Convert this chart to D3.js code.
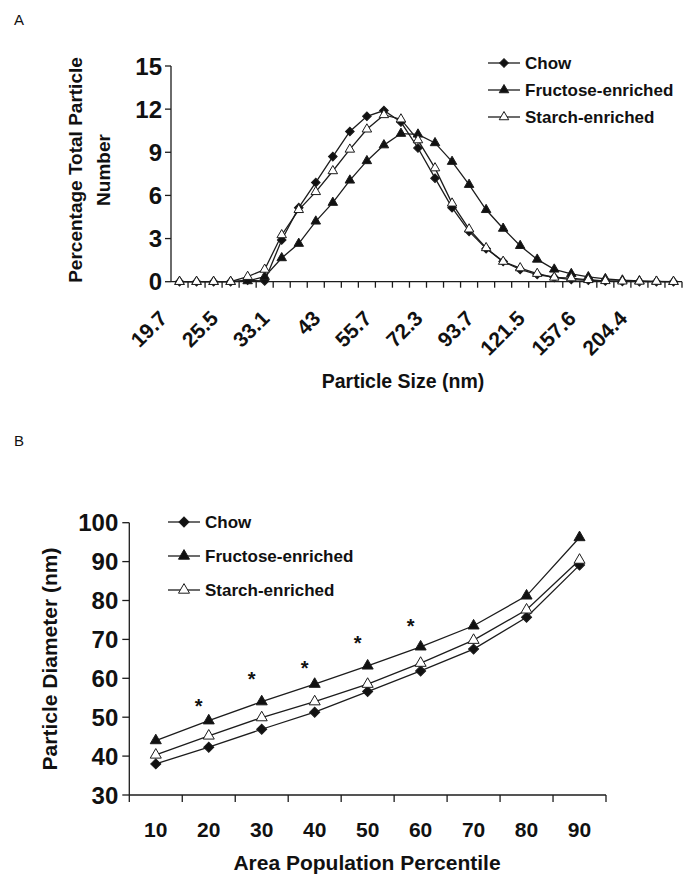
<!DOCTYPE html>
<meta charset="utf-8">
<style>
  body { margin: 0; background: #fff; }
  text { font-family: "Liberation Sans", Arial, sans-serif; fill: #111; }
</style>
<body>
<div id="vis"></div>
<script src="https://cdn.jsdelivr.net/npm/d3@7"></script>
<script>

const width = 689,
    height = 874;

const ink = '#1c1c1c';

// ---- panel A: size distribution ----
const sizes = [19.7, 21.5, 23.4, 25.5, 27.9, 30.4, 33.1, 36.1, 39.4, 43, 46.9, 51.1, 55.7, 60.8, 66.3,
               72.3, 78.8, 85.9, 93.7, 102.2, 111.4, 121.5, 132.5, 144.5, 157.6, 171.8, 187.4, 204.4, 222.8, 243.0];
const sizeLabels = [19.7, 25.5, 33.1, 43, 55.7, 72.3, 93.7, 121.5, 157.6, 204.4];
const chowA = [0, 0, 0, 0, 0.1, 0.05, 2.9, 5.15, 6.9, 8.7, 10.45, 11.5, 11.9, 11.1, 9.3,
               7.2, 5.15, 3.5, 2.3, 1.4, 0.85, 0.5, 0.3, 0.15, 0.1, 0.05, 0.02, 0, 0, 0];
const fructoseA = [0, 0, 0, 0, 0.05, 0.35, 1.65, 2.65, 4.2, 5.5, 7.05, 8.4, 9.5, 10.3, 10.25,
                   9.65, 8.35, 6.75, 5.0, 3.7, 2.5, 1.55, 0.86, 0.55, 0.33, 0.2, 0.1, 0.05, 0.02, 0];
const starchA = [0, 0, 0, 0, 0.35, 0.85, 3.25, 5.0, 6.25, 7.7, 9.2, 10.6, 11.6, 11.3, 9.85,
                 7.9, 5.45, 3.65, 2.35, 1.4, 0.95, 0.56, 0.3, 0.25, 0.13, 0.06, 0.03, 0.02, 0.01, 0];
const yTicksA = [0, 3, 6, 9, 12, 15];

// ---- panel B: diameter by percentile ----
const percentiles = [10, 20, 30, 40, 50, 60, 70, 80, 90];
const chowB = [38.0, 42.3, 46.9, 51.3, 56.6, 61.9, 67.5, 75.7, 89.1];
const fructoseB = [44.0, 49.1, 54.0, 58.5, 63.2, 68.1, 73.5, 81.2, 96.2];
const starchB = [40.3, 45.2, 49.9, 54.0, 58.5, 63.9, 69.8, 77.6, 90.4];
const yTicksB = [30, 40, 50, 60, 70, 80, 90, 100];
const starPercentiles = [20, 30, 40, 50, 60];
const starValues = [53.6, 60.7, 63.4, 69.8, 74.3];

const seriesNames = ['Chow', 'Fructose-enriched', 'Starch-enriched'];
const markerFill = ['#111', '#111', '#fff'];

const svg = d3.select('#vis')
    .append('svg')
    .attr('width', width)
    .attr('height', height);

const marker = (g, i, scale) => {
  let p;
  if (i == 0) {
    p = g.append('path')
      .attr('d', d3.symbol(d3.symbolSquare, 44 * scale)())
      .attr('transform', 'rotate(45)');
  } else {
    p = g.append('path')
      .attr('d', d3.symbol(d3.symbolTriangle, 46 * scale)());
  }
  p.style('fill', markerFill[i])
    .style('stroke', ink)
    .style('stroke-width', 1);
};

const drawSeries = (g, x, y, cats, series, scale) => {
  let line = d3.line()
    .x((d, i) => x(cats[i]) + (x.bandwidth ? x.bandwidth() / 2 : 0))
    .y(d => y(d));
  series.forEach((vals, si) => {
    g.append('path')
      .attr('d', line(vals))
      .style('fill', 'none')
      .style('stroke', ink)
      .style('stroke-width', 1.3);
  });
  series.forEach((vals, si) => {
    g.selectAll('.m' + si)
      .data(vals)
      .enter().append('g')
      .attr('class', 'm' + si)
      .attr('transform', (d, i) => 'translate(' + [x(cats[i]) + x.bandwidth() / 2, y(d)] + ')')
      .each(function() { marker(d3.select(this), si, scale); });
  });
};

const drawLegend = (g, x0, y0, gap, scale) => {
  seriesNames.forEach((name, i) => {
    let row = g.append('g').attr('transform', 'translate(' + [x0, y0 + i * gap] + ')');
    row.append('path')
      .attr('d', 'M-16,0H16')
      .style('stroke', ink)
      .style('stroke-width', 1.3);
    marker(row, i, scale);
    row.append('text')
      .attr('x', 21)
      .attr('y', 6)
      .style('font-size', '17px')
      .style('font-weight', 'bold')
      .text(name);
  });
};

// ================= Panel A =================
const xA = d3.scaleBand().domain(sizes).range([171, 682]);
const yA = d3.scaleLinear().domain([0, 15]).range([281.7, 66]);

const gA = svg.append('g').attr('class', 'panel-a');

gA.append('text')
  .attr('x', 14).attr('y', 25)
  .style('font-size', '15px')
  .text('A');

// y axis
gA.append('path')
  .attr('d', 'M' + xA.range()[0] + ',' + yA(0) + 'V' + yA(15))
  .style('stroke', ink).style('stroke-width', 1.3).style('fill', 'none');
gA.selectAll('.ytick')
  .data(yTicksA)
  .enter().append('path')
  .attr('d', d => 'M' + (xA.range()[0] - 6) + ',' + yA(d) + 'h6')
  .style('stroke', ink).style('stroke-width', 1.3);
gA.selectAll('.ylab')
  .data(yTicksA)
  .enter().append('text')
  .attr('x', xA.range()[0] - 9)
  .attr('y', d => yA(d))
  .attr('dy', '0.36em')
  .style('text-anchor', 'end')
  .style('font-size', '24px')
  .style('font-weight', 'bold')
  .text(d => d);

// x axis
gA.append('path')
  .attr('d', 'M' + xA.range()[0] + ',' + yA(0) + 'H' + xA.range()[1])
  .style('stroke', ink).style('stroke-width', 1.3).style('fill', 'none');
gA.selectAll('.xtick')
  .data(sizes.slice(1).concat(['end']))
  .enter().append('path')
  .attr('d', d => 'M' + (d == 'end' ? xA.range()[1] : xA(d)) + ',' + yA(0) + 'v6')
  .style('stroke', ink).style('stroke-width', 1.3);
gA.selectAll('.xlab')
  .data(sizeLabels)
  .enter().append('text')
  .attr('transform', d => 'translate(' + [xA(d) + xA.bandwidth() / 2 - 11, yA(0) + 38] + ') rotate(-45)')
  .style('text-anchor', 'end')
  .style('font-size', '21px')
  .style('font-weight', 'bold')
  .text(d => d);

gA.append('text')
  .attr('transform', 'translate(82,170) rotate(-90)')
  .style('text-anchor', 'middle')
  .style('font-size', '19px')
  .style('font-weight', 'bold')
  .text('Percentage Total Particle');
gA.append('text')
  .attr('transform', 'translate(110,170) rotate(-90)')
  .style('text-anchor', 'middle')
  .style('font-size', '19px')
  .style('font-weight', 'bold')
  .text('Number');
gA.append('text')
  .attr('x', 403).attr('y', 388)
  .style('text-anchor', 'middle')
  .style('font-size', '19.5px')
  .style('font-weight', 'bold')
  .text('Particle Size (nm)');

drawSeries(gA, xA, yA, sizes, [starchA, fructoseA, chowA].reverse(), 0.85);
drawLegend(gA, 504, 63, 27, 0.85);

// ================= Panel B =================
const xB = d3.scaleBand().domain(percentiles).range([129.3, 606]);
const yB = d3.scaleLinear().domain([30, 100]).range([795, 522.7]);

const gB = svg.append('g').attr('class', 'panel-b');

gB.append('text')
  .attr('x', 14).attr('y', 446)
  .style('font-size', '15px')
  .text('B');

gB.append('path')
  .attr('d', 'M' + xB.range()[0] + ',' + yB(30) + 'V' + yB(100))
  .style('stroke', ink).style('stroke-width', 1.3).style('fill', 'none');
gB.selectAll('.ytick')
  .data(yTicksB)
  .enter().append('path')
  .attr('d', d => 'M' + (xB.range()[0] - 7) + ',' + yB(d) + 'h7')
  .style('stroke', ink).style('stroke-width', 1.3);
gB.selectAll('.ylab')
  .data(yTicksB)
  .enter().append('text')
  .attr('x', xB.range()[0] - 11)
  .attr('y', d => yB(d))
  .attr('dy', '0.36em')
  .style('text-anchor', 'end')
  .style('font-size', '24px')
  .style('font-weight', 'bold')
  .text(d => d);

gB.append('path')
  .attr('d', 'M' + xB.range()[0] + ',' + yB(30) + 'H' + xB.range()[1])
  .style('stroke', ink).style('stroke-width', 1.3).style('fill', 'none');
gB.selectAll('.xtick')
  .data(percentiles.concat(['end']))
  .enter().append('path')
  .attr('d', d => 'M' + (d == 'end' ? xB.range()[1] : xB(d)) + ',' + yB(30) + 'v7')
  .style('stroke', ink).style('stroke-width', 1.3);
gB.selectAll('.xlab')
  .data(percentiles)
  .enter().append('text')
  .attr('x', d => xB(d) + xB.bandwidth() / 2)
  .attr('y', 837)
  .style('text-anchor', 'middle')
  .style('font-size', '21px')
  .style('font-weight', 'bold')
  .text(d => d);

gB.append('text')
  .attr('transform', 'translate(57,659) rotate(-90)')
  .style('text-anchor', 'middle')
  .style('font-size', '21px')
  .style('font-weight', 'bold')
  .text('Particle Diameter (nm)');
gB.append('text')
  .attr('x', 367).attr('y', 870)
  .style('text-anchor', 'middle')
  .style('font-size', '21px')
  .style('font-weight', 'bold')
  .text('Area Population Percentile');

drawSeries(gB, xB, yB, percentiles, [chowB, fructoseB, starchB], 1.15);

gB.selectAll('.star')
  .data(starValues)
  .enter().append('text')
  .attr('x', (d, i) => xB(starPercentiles[i]) + xB.bandwidth() / 2 - 10)
  .attr('y', d => yB(d))
  .attr('dy', '0.5em')
  .style('text-anchor', 'middle')
  .style('font-size', '20px')
  .style('font-weight', 'bold')
  .text('*');

drawLegend(gB, 184, 522, 34, 1.15);

</script>
</body>
